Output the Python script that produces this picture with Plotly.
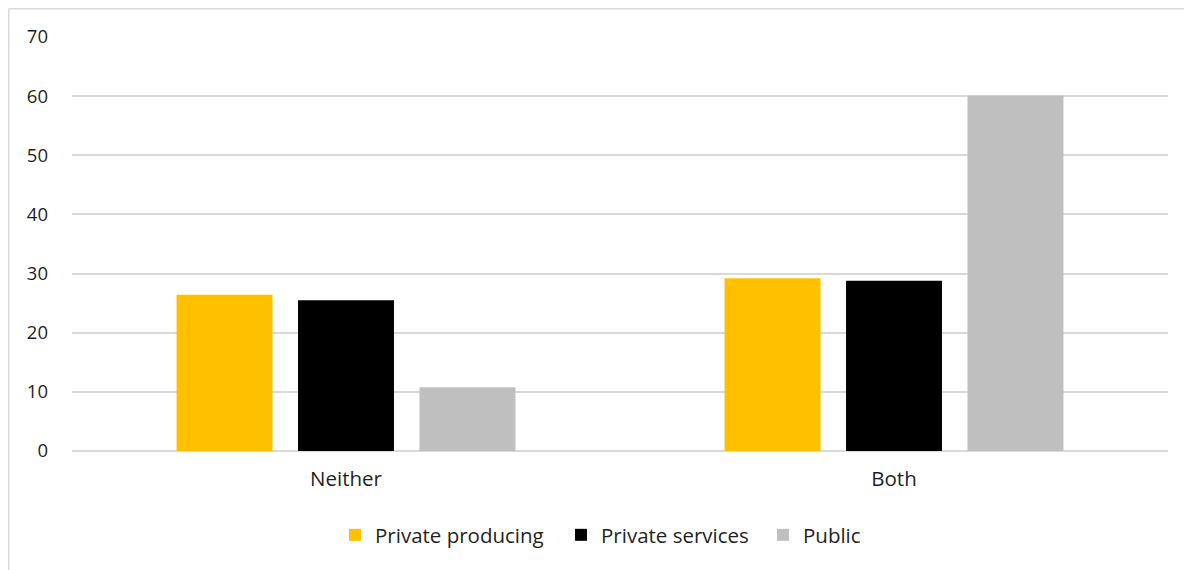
import plotly.graph_objects as go

categories = ["Neither", "Both"]
series_names = ["Private producing", "Private services", "Public"]
private_producing = [26.4, 29.2]
private_services = [25.5, 28.8]
public = [10.8, 60.1]
colors = ["#FFC000", "#000000", "#BFBFBF"]
y_ticks = [0, 10, 20, 30, 40, 50, 60, 70]

FONT = "Open Sans"
TXT = "#1F1F1F"
OFF = 8  # page body margin
W, H = 1192, 570
L, T = 72 - OFF, 37 - OFF
R = W - (1168 - OFF)
B = H - (451 - OFF)
pw, ph = W - L - R, H - T - B
px = lambda x: (x - OFF - L) / pw     # page pixel -> paper
py = lambda y: (H - B - (y - OFF)) / ph

fig = go.Figure()
legend_ids = ["legend", "legend2", "legend3"]
for name, vals, col, lg in zip(series_names, [private_producing, private_services, public], colors, legend_ids):
    fig.add_trace(go.Bar(x=categories, y=vals, name=name, legend=lg,
                         marker=dict(color=col, line=dict(width=0))))

leg_common = dict(orientation="h", xanchor="left", yanchor="middle", y=py(535),
                  font=dict(size=20.5, family=FONT, color=TXT), itemwidth=30,
                  bgcolor="rgba(0,0,0,0)", borderwidth=0)
leg_x = [352, 578, 780]

fig.update_layout(
    width=W, height=H,
    margin=dict(l=L, r=R, t=T, b=B, autoexpand=False),
    paper_bgcolor="white", plot_bgcolor="white",
    barmode="group", bargap=0.335, bargroupgap=0.21,
    font=dict(family=FONT, size=18, color=TXT),
    showlegend=True,
    legend=dict(x=px(leg_x[0] - 17), **leg_common),
    legend2=dict(x=px(leg_x[1] - 17), **leg_common),
    legend3=dict(x=px(leg_x[2] - 17), **leg_common),
    xaxis=dict(showgrid=False, showline=False, zeroline=False, ticks="",
               ticklabelstandoff=13, tickfont=dict(size=20.5)),
    yaxis=dict(range=[0, 70], tickvals=y_ticks, showgrid=True, gridcolor="#D9D9D9", gridwidth=1.5,
               zeroline=True, zerolinecolor="#D9D9D9", zerolinewidth=1.5, showline=False,
               ticks="", ticklabelstandoff=23, tickfont=dict(size=18.5)),
    shapes=[
        dict(type="line", xref="paper", yref="paper", x0=px(8.75), x1=px(8.75), y0=py(8.75), y1=py(600),
             line=dict(color="#D9D9D9", width=1.5)),
        dict(type="line", xref="paper", yref="paper", x0=px(8.75), x1=px(1300), y0=py(8.75), y1=py(8.75),
             line=dict(color="#D9D9D9", width=1.5)),
    ],
)
fig.write_html("out.html")
